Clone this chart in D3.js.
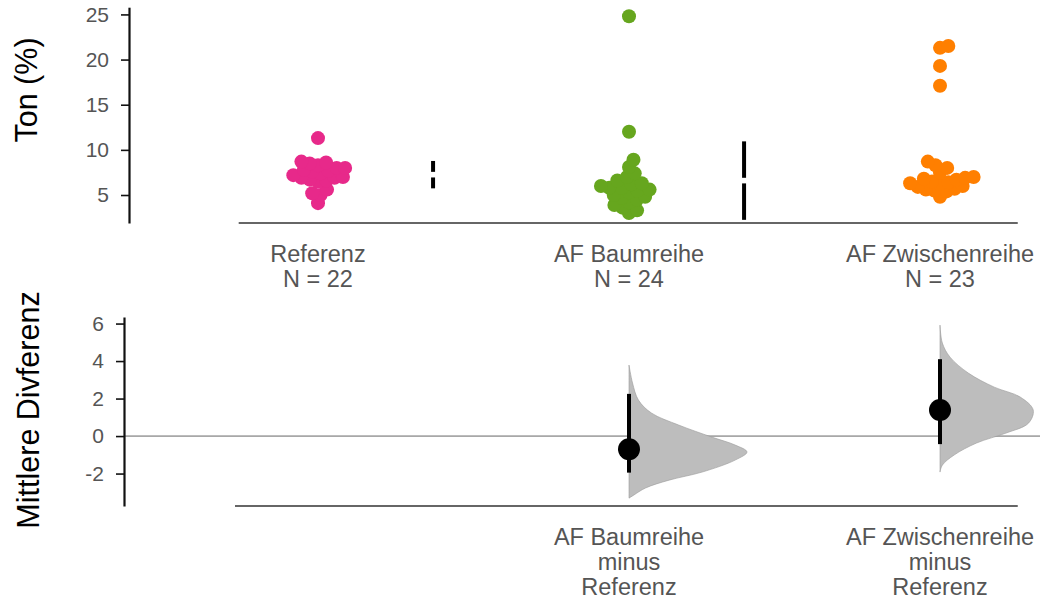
<!DOCTYPE html>
<meta charset="utf-8">
<style>
  body { margin: 0; background: #fff; }
  text { font-family: "Liberation Sans", Arial, sans-serif; }
</style>
<svg id="chart" width="1040" height="601"></svg>
<script src="https://cdn.jsdelivr.net/npm/d3@7"></script>
<script>

// groups and raw observations (Ton %)
var groups = ["Referenz", "AF Baumreihe", "AF Zwischenreihe"];
var groupN = ["N = 22", "N = 24", "N = 23"];
var colors = ["#e7298a", "#66a61e", "#ff7f00"];

var referenz = [11.3, 8.7, 8.6, 8.5, 8.3, 8.0, 8.0, 7.8, 7.7, 7.6, 7.4, 7.2,
  7.0, 6.9, 6.9, 6.7, 6.6, 6.5, 5.6, 5.2, 5.0, 4.1];
var baumreihe = [24.8, 12.0, 8.9, 8.1, 7.4, 7.0, 6.6, 6.3, 6.2, 6.0, 5.8, 5.8,
  5.6, 5.5, 5.3, 5.0, 4.8, 4.7, 4.5, 4.2, 3.9, 3.6, 3.3, 3.0];
var zwischenreihe = [21.5, 21.3, 19.3, 17.1, 8.7, 8.3, 8.0, 7.5, 7.0, 6.9, 6.8,
  6.7, 6.5, 6.4, 6.3, 6.2, 6.0, 5.9, 5.7, 5.6, 5.5, 5.4, 4.8];
var rawData = [referenz, baumreihe, zwischenreihe];

var topTicks = [5, 10, 15, 20, 25];

// mean differences vs Referenz with 95% CI
var diffLabels = [["AF Baumreihe", "minus", "Referenz"], ["AF Zwischenreihe", "minus", "Referenz"]];
var diffIndex = [1, 2];
var diffMean = [-0.7, 1.39];
var diffLow = [-1.95, -0.43];
var diffHigh = [2.25, 4.1];
var bottomTicks = [-2, 0, 2, 4, 6];

// bootstrap distribution outlines (value, relative density)
var bootBaum = [[3.79, 0], [2.83, 0.03], [1.92, 0.08], [1.23, 0.19], [0.59, 0.42],
  [-0.05, 0.70], [-0.48, 0.90], [-0.85, 1.0], [-1.28, 0.90], [-1.92, 0.62],
  [-2.35, 0.34], [-2.77, 0.14], [-3.15, 0.04], [-3.31, 0]];
var bootZwischen = [[5.92, 0], [4.96, 0.02], [4.21, 0.085], [3.36, 0.24], [2.61, 0.46],
  [2.08, 0.68], [1.39, 0.79], [0.69, 0.75], [0.16, 0.56], [-0.37, 0.31],
  [-1.01, 0.12], [-1.55, 0.02], [-1.92, 0]];
var bootData = [bootBaum, bootZwischen];

var svg = d3.select("svg#chart");

var x = d3.scaleLinear().domain([0, 2]).range([318, 940]);
var yTop = d3.scaleLinear().domain([1.9, 25.8]).range([223, 7.2]);
var yBot = d3.scaleLinear().domain([-3.73, 6.35]).range([506, 317]);
var wScale = d3.scaleLinear().domain([0, 1]).range([0, 118]);

var radius = 7;

function styleAxis(g) {
  g.select(".domain").attr("stroke", "#111").attr("stroke-width", 2.2);
  g.selectAll(".tick line").attr("stroke", "#111").attr("stroke-width", 1.6);
  g.selectAll(".tick text")
    .attr("fill", "#555")
    .style("font-size", "21px")
    .style("font-family", "'Liberation Sans', Arial, sans-serif");
}

// ---------- top panel ----------
svg.append("g")
  .attr("transform", "translate(129,0)")
  .call(d3.axisLeft(yTop).tickValues(topTicks).tickFormat(function(d) { return String(d); })
    .tickSize(8).tickSizeOuter(0).tickPadding(12))
  .call(styleAxis);

svg.append("line")
  .attr("x1", x(-0.255)).attr("x2", x(2.25))
  .attr("y1", 223).attr("y2", 223)
  .attr("stroke", "#333").attr("stroke-width", 1.6);

svg.append("text")
  .attr("transform", "translate(37,90) rotate(-90)")
  .attr("text-anchor", "middle")
  .style("font-size", "30.5px")
  .text("Ton (%)");

function swarm(values, d) {
  var pts = values.map(function(v) { return { v: v, y: yTop(v) }; })
    .sort(function(a, b) { return b.y - a.y; });
  var placed = [];
  pts.forEach(function(p) {
    var cands = [0];
    placed.forEach(function(q) {
      var dy = p.y - q.y;
      if (Math.abs(dy) < d) {
        var dx = Math.sqrt(d * d - dy * dy);
        cands.push(q.dx + dx, q.dx - dx);
      }
    });
    cands.sort(function(a, b) { return Math.abs(a) - Math.abs(b); });
    for (var i = 0; i < cands.length; i++) {
      var c = cands[i];
      var ok = placed.every(function(q) {
        return (q.dx - c) * (q.dx - c) + (q.y - p.y) * (q.y - p.y) >= d * d - 0.01;
      });
      if (ok) { p.dx = c; break; }
    }
    placed.push(p);
  });
  return placed;
}

rawData.forEach(function(vals, i) {
  var pts = swarm(vals, 8.5);
  svg.append("g").selectAll("circle")
    .data(pts)
    .enter().append("circle")
      .attr("cx", function(d) { return x(i) + d.dx; })
      .attr("cy", function(d) { return d.y; })
      .attr("r", radius)
      .attr("fill", colors[i]);

  // mean +/- sd gapped line
  var m = d3.mean(vals), sd = d3.deviation(vals), gx = x(i + 0.37), gap = 2.8;
  svg.append("line")
    .attr("x1", gx).attr("x2", gx)
    .attr("y1", yTop(m + sd)).attr("y2", yTop(m) - gap)
    .attr("stroke", "#000").attr("stroke-width", 4);
  svg.append("line")
    .attr("x1", gx).attr("x2", gx)
    .attr("y1", yTop(m) + gap).attr("y2", yTop(m - sd))
    .attr("stroke", "#000").attr("stroke-width", 4);

  var lab = svg.append("text")
    .attr("text-anchor", "middle")
    .attr("fill", "#555")
    .style("font-size", "23.5px");
  lab.append("tspan").attr("x", x(i)).attr("y", 262).text(groups[i]);
  lab.append("tspan").attr("x", x(i)).attr("y", 287).text(groupN[i]);
});

// ---------- bottom panel ----------
svg.append("line")
  .attr("x1", 124).attr("x2", 1040)
  .attr("y1", yBot(0)).attr("y2", yBot(0))
  .attr("stroke", "#666").attr("stroke-width", 1);

svg.append("g")
  .attr("transform", "translate(124,0)")
  .call(d3.axisLeft(yBot).tickValues(bottomTicks).tickFormat(function(d) { return String(d); })
    .tickSize(8).tickSizeOuter(0).tickPadding(12))
  .call(styleAxis);

svg.append("line")
  .attr("x1", x(-0.267)).attr("x2", x(2.25))
  .attr("y1", 506).attr("y2", 506)
  .attr("stroke", "#333").attr("stroke-width", 1.6);

svg.append("text")
  .attr("transform", "translate(39,410) rotate(-90)")
  .attr("text-anchor", "middle")
  .style("font-size", "30.5px")
  .text("Mittlere Divferenz");

diffIndex.forEach(function(gi, k) {
  var cx = x(gi);
  var area = d3.area()
    .x0(cx)
    .x1(function(d) { return cx + wScale(d[1]); })
    .y(function(d) { return yBot(d[0]); })
    .curve(d3.curveCatmullRom);
  svg.append("path")
    .attr("d", area(bootData[k]))
    .attr("fill", "#bdbdbd")
    .attr("stroke", "#9a9a9a")
    .attr("stroke-width", 0.6);

  svg.append("line")
    .attr("x1", cx).attr("x2", cx)
    .attr("y1", yBot(diffHigh[k])).attr("y2", yBot(diffLow[k]))
    .attr("stroke", "#000").attr("stroke-width", 4);

  svg.append("circle")
    .attr("cx", cx).attr("cy", yBot(diffMean[k]))
    .attr("r", 11)
    .attr("fill", "#000");

  var lab = svg.append("text")
    .attr("text-anchor", "middle")
    .attr("fill", "#555")
    .style("font-size", "23.5px");
  diffLabels[k].forEach(function(s, j) {
    lab.append("tspan").attr("x", cx).attr("y", 545 + j * 25).text(s);
  });
});

</script>
